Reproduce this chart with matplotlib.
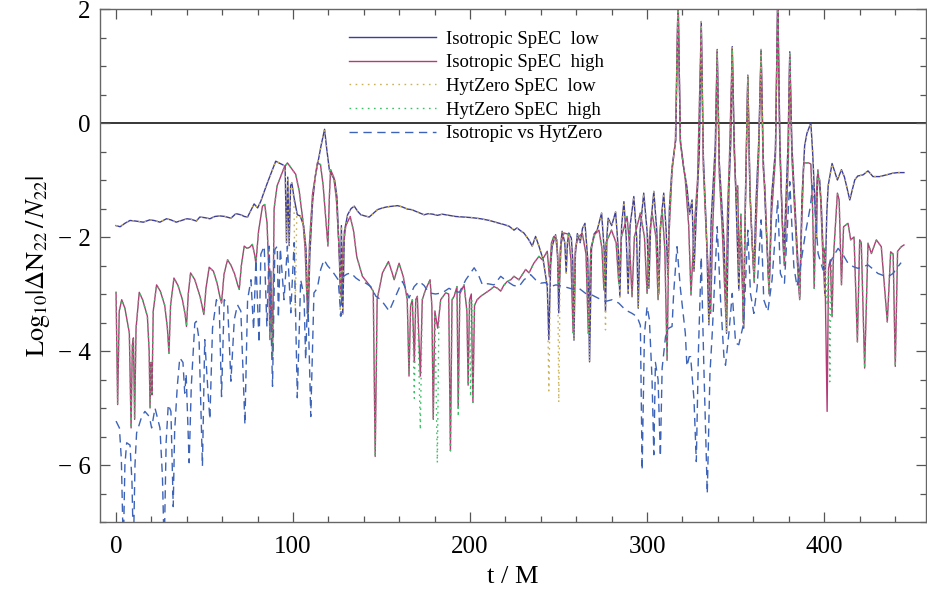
import matplotlib
matplotlib.use("Agg")
import matplotlib.pyplot as plt
from matplotlib.ticker import MultipleLocator, FixedLocator, FixedFormatter

plt.rcParams['font.family'] = ['Liberation Serif', 'DejaVu Serif']
plt.rcParams['mathtext.fontset'] = 'stix'

# (t/M, log10 |dN22/N22|)
iso_low = [
    (0, -1.80), (2.3, -1.82), (5, -1.76), (7.9, -1.71), (11, -1.72), (15.4, -1.74), (19, -1.70),
    (21.5, -1.71), (24.8, -1.74), (28.5, -1.68), (31, -1.70), (34, -1.74), (37, -1.71), (40, -1.68),
    (42.5, -1.69), (45.4, -1.72), (47.3, -1.65), (50, -1.66), (53, -1.68), (55.8, -1.64), (58.6, -1.63),
    (61.5, -1.64), (64.9, -1.67), (67.7, -1.59), (70.5, -1.61), (72.5, -1.64), (74.3, -1.65),
    (76.2, -1.53), (78, -1.42), (80, -1.49), (81.8, -1.37), (83.5, -1.22), (85.5, -1.05), (88, -0.85),
    (90.2, -0.67), (92, -0.70), (94, -0.73), (95.5, -0.76), (96.3, -2.1), (97, -0.95), (97.8, -2.15),
    (98.6, -1.1), (99.3, -1.05), (100.5, -1.3), (102.4, -1.61), (104, -1.63), (106, -1.8), (107.3, -2.2),
    (108.5, -3.45), (109.5, -2.3), (111, -1.4), (112.5, -0.95), (114, -0.70), (115.8, -0.40),
    (117.8, -0.11), (119, -0.45), (120.5, -0.82), (122, -0.92), (123.5, -1.0), (124.8, -1.3),
    (126.2, -2.4), (126.7, -3.0), (127.3, -1.8), (128.1, -3.35), (129, -1.9), (130.8, -1.61),
    (132.8, -1.5), (134.6, -1.46), (136.5, -1.55), (138.3, -1.61), (140.5, -1.63), (143, -1.65),
    (145.5, -1.58), (147.7, -1.52), (150.5, -1.49), (153.3, -1.47), (156, -1.46), (159, -1.45),
    (161.5, -1.47), (164.6, -1.51), (167, -1.52), (169.3, -1.55), (171.5, -1.58), (174, -1.61),
    (176.5, -1.59), (179, -1.60), (181.5, -1.62), (184.3, -1.60), (188, -1.62), (191.8, -1.64),
    (196.6, -1.65), (201, -1.66), (206, -1.68), (211, -1.71), (215.4, -1.75), (219, -1.78),
    (222, -1.81), (224.8, -1.88), (226.5, -1.84), (228.5, -1.89), (230.4, -1.93), (233.2, -2.05),
    (235.1, -2.16), (237, -1.99), (238.9, -2.16), (241.3, -2.4), (243.6, -2.87), (244.5, -3.8),
    (245.5, -2.5), (246.4, -2.16), (248.3, -1.96), (249.4, -2.3), (250.1, -3.33), (251, -2.2),
    (252, -1.9), (253.5, -2.1), (254.3, -2.63), (255, -2.1), (255.8, -1.93), (257.2, -2.02),
    (258, -2.4), (258.7, -3.81), (259.5, -2.3), (260.6, -1.94), (262.2, -2.1), (263.5, -1.85),
    (264.9, -1.76), (266.5, -2.4), (267.5, -4.19), (268.6, -2.2), (270, -1.95), (271.8, -1.88),
    (274.3, -1.58), (275.7, -2.2), (276.5, -3.3), (277.3, -2.0), (278, -1.67), (280, -1.8),
    (282.2, -1.56), (283.7, -2.2), (284.6, -3.05), (285.6, -1.8), (286.9, -1.38), (288.2, -2.0),
    (289.3, -2.99), (290.4, -1.8), (292.5, -1.29), (294.1, -2.0), (295, -3.25), (296, -1.9),
    (298.1, -1.23), (300, -1.9), (301, -2.9), (302, -1.8), (303.8, -1.2), (305.5, -1.9), (306.6, -3.0),
    (307.6, -1.8), (309.4, -1.23), (310.8, -1.9), (311.7, -2.7), (312.6, -1.5), (314.1, -0.77),
    (316.2, -0.3), (317.5, 2.2), (318.8, -0.3), (320.5, -0.75), (322.5, -1.12), (324, -1.6),
    (325.4, -1.35), (326.5, -2.6), (327.8, -1.6), (329.5, -0.5), (330.6, 1.78), (331.8, -0.6),
    (333.5, -1.9), (334.9, -3.54), (336.2, -1.7), (338.5, -0.4), (339.6, 1.29), (340.8, -0.7),
    (342.5, -1.6), (343.5, -2.1), (344.9, -3.69), (346.2, -1.2), (347.3, -0.3), (348.1, 1.34),
    (349.2, -0.3), (350.5, -1.6), (351.8, -2.93), (353, -1.8), (354.6, -3.6), (355.6, -1.2),
    (356.9, 0.84), (358, -1.1), (359.2, -2.0), (360.3, -2.64), (361.5, -1.4), (363.1, -0.3),
    (364.4, 1.29), (365.6, -0.6), (367.2, -1.8), (368.9, -2.93), (370.3, -1.3), (372.5, -0.47),
    (373.8, 2.2), (375, -0.3), (376.2, -1.6), (377.2, -2.35), (378.5, -1.3), (379.6, -0.4),
    (380.6, 1.25), (381.8, -0.4), (383.5, -1.4), (384.8, -2.2), (386.2, -3.05), (387.5, -1.3),
    (389, -0.4), (390.3, -0.18), (392.5, 0.0), (393.5, -0.5), (394.5, -1.2), (395.7, -2.02),
    (396.2, -0.94), (397.5, -1.0), (398.5, -1.5), (400.4, -3.02), (401.5, -1.6), (402.3, -1.1),
    (404.5, -0.71), (407.5, -1.0), (409.8, -0.82), (411.5, -0.95), (414.5, -1.35), (417.3, -1.0),
    (419, -0.93), (422, -0.91), (424.8, -0.84), (427.6, -0.94), (431.4, -0.94), (435.1, -0.91),
    (438.9, -0.88), (441.7, -0.87), (445.1, -0.87),
]

iso_high = [
    (0, -2.97), (0.9, -4.94), (1.8, -3.3), (3.2, -3.1), (5, -3.25), (7.5, -3.68), (8.5, -5.35),
    (9.2, -3.9), (9.8, -3.77), (10.5, -5.2), (11.3, -3.6), (13.1, -2.97), (15, -3.1), (17.7, -3.39),
    (18.7, -4.0), (19.2, -5.0), (19.7, -4.2), (20, -4.4), (20.3, -4.77), (21, -3.3), (22.9, -2.84),
    (25, -2.95), (27.5, -3.2), (29, -3.6), (29.9, -4.04), (30.8, -3.2), (32.7, -2.72), (35, -2.85),
    (37.5, -3.1), (39, -3.35), (39.8, -3.57), (40.8, -3.0), (42.1, -2.63), (44.5, -2.75),
    (47.5, -3.05), (49.6, -3.36), (50.8, -2.9), (52.6, -2.53), (55, -2.6), (57, -2.8), (58.6, -3.04),
    (59.6, -3.16), (61, -2.65), (63, -2.4), (65, -2.5), (67, -2.65), (68.8, -2.85), (69.6, -2.92),
    (70.8, -2.5), (72.4, -2.16), (74, -2.2), (75.5, -2.18), (77, -2.13), (78.2, -2.3), (79, -2.46),
    (80.5, -1.9), (82.7, -1.46), (84, -1.43), (85.3, -1.75), (86.3, -2.6), (86.9, -3.8), (87.5, -2.6),
    (88.4, -4.09), (89.3, -1.5), (91, -1.1), (93, -0.94), (95, -0.78), (96.8, -0.70), (98, -0.75),
    (99.6, -0.82), (101.5, -0.9), (103.5, -1.2), (105.5, -1.7), (106.8, -2.2), (107.7, -2.98),
    (108.3, -3.3), (109.3, -2.1), (111, -1.25), (113.7, -0.70), (115.5, -0.73), (117, -1.1),
    (118.5, -1.7), (119.7, -2.16), (120.5, -1.3), (121.2, -0.82), (123, -0.95), (124.5, -1.35),
    (126, -2.2), (127.2, -3.05), (128.2, -2.2), (129.8, -1.8), (132.3, -1.64), (134.2, -1.9),
    (136, -2.35), (139.2, -2.69), (143, -2.84), (145.3, -2.95), (146.4, -5.85), (147.5, -3.1),
    (150.5, -2.63), (153.9, -2.43), (155.7, -2.6), (157.1, -2.75), (159.9, -2.46), (162.3, -2.7),
    (164.5, -3.1), (165.5, -4.44), (166.4, -3.2), (167.4, -3.1), (168.5, -4.2), (169.3, -3.1),
    (170.2, -3.04), (171.9, -4.44), (173, -3.1), (174.9, -2.92), (177.4, -2.75), (178.4, -3.2),
    (179.2, -5.2), (180.1, -3.3), (181.7, -3.6), (183.4, -3.1), (186.2, -2.98), (187.9, -3.0),
    (188.9, -5.75), (189.8, -3.1), (191, -3.04), (192.6, -2.87), (193.3, -5.0), (194.2, -3.0),
    (196.6, -2.84), (198.2, -3.3), (198.9, -4.6), (199.7, -3.1), (200.7, -3.0), (201.6, -4.9),
    (202.5, -3.2), (204, -3.1), (206, -3.04), (208.8, -2.98), (211.6, -2.92), (213.5, -2.87),
    (215.5, -2.9), (217.3, -2.95), (219, -2.85), (221, -2.78), (223, -2.75), (224.8, -2.69),
    (227.6, -2.75), (231.4, -2.57), (233.3, -2.63), (236, -2.46), (238.9, -2.34), (240.8, -2.4),
    (243.6, -2.25), (244.8, -2.7), (246, -2.1), (247.3, -1.99), (249, -2.05), (250.3, -2.9),
    (251.5, -2.1), (253, -1.93), (255.5, -1.95), (257, -2.4), (258.2, -3.68), (259.5, -2.2),
    (261, -2.0), (263.4, -1.94), (265.5, -2.3), (266.8, -3.69), (268.2, -2.2), (270.5, -1.95),
    (272.8, -1.88), (274.5, -2.2), (275.6, -2.93), (276.8, -2.1), (279.9, -1.88), (282.5, -2.1),
    (284, -2.81), (285.5, -2.0), (288.7, -1.64), (290.2, -2.2), (291.5, -3.05), (292.8, -2.0),
    (296.2, -1.58), (298.5, -2.0), (300, -2.99), (301.3, -2.0), (302.8, -1.58), (305, -2.0),
    (306.2, -3.1), (307.3, -1.9), (308.5, -1.53), (310, -2.2), (311.3, -4.16), (312.3, -2.0),
    (314.1, -0.85), (316, -0.3), (317.5, 2.2), (318.8, -0.35), (321.6, -1.0), (323.5, -1.8),
    (324.8, -3.02), (326.5, -1.9), (328.5, -1.0), (330.6, 1.7), (331.8, -0.8), (333.5, -2.0),
    (335.9, -3.34), (337, -1.9), (338.6, -0.6), (339.6, 1.25), (340.8, -0.9), (342.5, -1.9),
    (344.5, -3.4), (345.5, -1.5), (346.5, -0.65), (348.1, 1.3), (349.2, -0.5), (350.5, -1.4),
    (351.2, -1.1), (352, -2.6), (353, -1.6), (354.3, -3.5), (355.6, -1.4), (356.9, 0.8),
    (358.2, -1.3), (359.5, -2.2), (360.5, -2.8), (361.8, -1.6), (363.1, -0.5), (364.4, 1.25),
    (365.6, -0.8), (366.5, -1.1), (367.5, -1.9), (368.9, -3.0), (370.3, -1.6), (372.5, -0.6),
    (373.8, 2.2), (375, -0.5), (376.5, -1.8), (377.5, -2.5), (378.8, -1.5), (379.8, -0.6),
    (380.6, 1.2), (381.8, -0.6), (383.5, -1.6), (385, -2.5), (386.2, -3.1), (387.2, -1.9),
    (388.5, -0.7), (391.3, -0.7), (392.5, -0.72), (393.5, -1.5), (394.4, -2.9), (395.5, -1.3),
    (396.5, -0.82), (398, -1.3), (399.5, -2.5), (400.3, -2.2), (401.7, -5.06), (402.5, -2.55),
    (403.5, -2.4), (404.5, -3.4), (405.2, -2.4), (407.5, -1.23), (408.5, -1.35), (409.8, -2.84),
    (411, -1.82), (413.5, -1.76), (415, -2.05), (416.9, -2.0), (418.8, -3.84), (420.1, -2.05),
    (421, -2.1), (422.9, -4.3), (424.8, -2.11), (426.7, -2.29), (429.5, -2.05), (432.3, -2.17),
    (435.7, -3.49), (437.6, -2.26), (439, -2.3), (440.2, -4.27), (441.5, -2.25), (443.6, -2.17),
    (445.1, -2.14),
]

hyt_low = [
    (0, -1.80), (2.3, -1.82), (5, -1.76), (7.9, -1.71), (11, -1.72), (15.4, -1.74), (19, -1.70),
    (21.5, -1.71), (24.8, -1.74), (28.5, -1.68), (31, -1.70), (34, -1.74), (37, -1.71), (40, -1.68),
    (42.5, -1.69), (45.4, -1.72), (47.3, -1.65), (50, -1.66), (53, -1.68), (55.8, -1.64), (58.6, -1.63),
    (61.5, -1.64), (64.9, -1.67), (67.7, -1.59), (70.5, -1.61), (72.5, -1.64), (74.3, -1.65),
    (76.2, -1.53), (78, -1.42), (80, -1.49), (81.8, -1.37), (83.5, -1.22), (85.5, -1.05), (88, -0.85),
    (90.2, -0.67), (92, -0.70), (94, -0.73), (95.5, -0.76), (96.3, -2.1), (97, -0.95), (97.8, -2.15),
    (98.6, -1.1), (99.3, -1.05), (100.5, -1.35), (101.3, -3.33), (102.1, -1.55), (104, -1.63),
    (106, -1.8), (107.3, -2.2), (108.5, -3.45), (109.5, -2.3), (111, -1.4), (112.5, -0.95),
    (114, -0.70), (115.8, -0.40), (117.8, -0.11), (119, -0.45), (120.5, -0.82), (122, -0.92),
    (123.5, -1.0), (124.8, -1.3), (126.2, -2.4), (126.7, -3.42), (127.3, -1.8), (128.1, -3.35),
    (129, -1.9), (130.8, -1.61), (132.8, -1.5), (134.6, -1.46), (136.5, -1.55), (138.3, -1.61),
    (140.5, -1.63), (143, -1.65), (145.5, -1.58), (147.7, -1.52), (150.5, -1.49), (153.3, -1.47),
    (156, -1.46), (159, -1.45), (161.5, -1.47), (164.6, -1.51), (167, -1.52), (169.3, -1.55),
    (171.5, -1.58), (174, -1.61), (176.5, -1.59), (179, -1.60), (181.5, -1.62), (184.3, -1.60),
    (188, -1.62), (191.8, -1.64), (196.6, -1.65), (201, -1.66), (206, -1.68), (211, -1.71),
    (215.4, -1.75), (219, -1.78), (222, -1.81), (224.8, -1.88), (226.5, -1.84), (228.5, -1.89),
    (230.4, -1.93), (233.2, -2.05), (235.1, -2.16), (237, -1.99), (238.9, -2.16), (241.3, -2.4),
    (243.6, -2.87), (244.5, -4.7), (245.5, -2.5), (246.4, -2.16), (248.3, -1.96), (249.4, -2.3),
    (250.1, -4.9), (251, -2.2), (252, -1.9), (253.5, -2.1), (254.3, -2.63), (255, -2.1),
    (255.8, -1.93), (257.2, -2.02), (258, -2.4), (258.7, -3.81), (259.5, -2.3), (260.6, -1.94),
    (262.2, -2.1), (263.5, -1.85), (264.9, -1.76), (266.5, -2.4), (267.5, -4.19), (268.6, -2.2),
    (270, -1.95), (271.8, -1.88), (274.3, -1.58), (275.7, -2.2), (276.5, -3.63), (277.3, -2.0),
    (278, -1.67), (280, -1.8), (282.2, -1.56), (283.7, -2.2), (284.6, -3.05), (285.6, -1.8),
    (286.9, -1.38), (288.2, -2.0), (289.3, -2.99), (290.4, -1.8), (292.5, -1.29), (294.1, -2.0),
    (295, -3.25), (296, -1.9), (298.1, -1.23), (300, -1.9), (301, -2.9), (302, -1.8), (303.8, -1.2),
    (305.5, -1.9), (306.6, -3.0), (307.6, -1.8), (309.4, -1.23), (310.8, -1.9), (311.7, -2.7),
    (312.6, -1.5), (314.1, -0.77), (316.2, -0.3), (317.5, 2.2), (318.8, -0.3), (320.5, -0.75),
    (322.5, -1.12), (324, -1.6), (325.4, -1.35), (326.5, -2.6), (327.8, -1.6), (329.5, -0.5),
    (330.6, 1.78), (331.8, -0.6), (333.5, -1.9), (334.9, -3.54), (336.2, -1.7), (338.5, -0.4),
    (339.6, 1.29), (340.8, -0.7), (342.5, -1.6), (343.5, -2.1), (344.9, -3.69), (346.2, -1.2),
    (347.3, -0.3), (348.1, 1.34), (349.2, -0.3), (350.5, -1.6), (351.8, -2.93), (353, -1.8),
    (354.6, -3.6), (355.6, -1.2), (356.9, 0.84), (358, -1.1), (359.2, -2.0), (360.3, -2.64),
    (361.5, -1.4), (363.1, -0.3), (364.4, 1.29), (365.6, -0.6), (367.2, -1.8), (368.9, -2.93),
    (370.3, -1.3), (372.5, -0.47), (373.8, 2.2), (375, -0.3), (376.2, -1.6), (377.2, -2.35),
    (378.5, -1.3), (379.6, -0.4), (380.6, 1.25), (381.8, -0.4), (383.5, -1.4), (384.8, -2.2),
    (386.2, -3.05), (387.5, -1.3), (389, -0.4), (390.3, -0.18), (392.5, 0.0), (393.5, -0.5),
    (394.5, -1.2), (395.7, -2.02), (396.2, -0.94), (397.5, -1.0), (398.5, -1.5), (400.4, -3.02),
    (401.5, -1.6), (402.3, -1.1), (404.5, -0.71), (407.5, -1.0), (409.8, -0.82), (411.5, -0.95),
    (414.5, -1.35), (417.3, -1.0), (419, -0.93), (422, -0.91), (424.8, -0.84), (427.6, -0.94),
    (431.4, -0.94), (435.1, -0.91), (438.9, -0.88), (441.7, -0.87), (445.1, -0.87),
]

hyt_high = [
    (0, -2.97), (0.9, -4.94), (1.8, -3.3), (3.2, -3.1), (5, -3.25), (7.5, -3.68), (8.5, -5.35),
    (9.2, -3.9), (9.8, -3.77), (10.5, -5.2), (11.3, -3.6), (13.1, -2.97), (15, -3.1), (17.7, -3.39),
    (18.7, -4.0), (19.2, -5.0), (19.7, -4.2), (20, -4.4), (20.3, -4.77), (21, -3.3), (22.9, -2.84),
    (25, -2.95), (27.5, -3.2), (29, -3.6), (29.9, -4.04), (30.8, -3.2), (32.7, -2.72), (35, -2.85),
    (37.5, -3.1), (39, -3.35), (39.8, -3.57), (40.8, -3.0), (42.1, -2.63), (44.5, -2.75),
    (47.5, -3.05), (49.6, -3.36), (50.8, -2.9), (52.6, -2.53), (55, -2.6), (57, -2.8), (58.6, -3.04),
    (59.6, -3.16), (61, -2.65), (63, -2.4), (65, -2.5), (67, -2.65), (68.8, -2.85), (69.6, -2.92),
    (70.8, -2.5), (72.4, -2.16), (74, -2.2), (75.5, -2.18), (77, -2.13), (78.2, -2.3), (79, -2.46),
    (80.5, -1.9), (82.7, -1.46), (84, -1.43), (85.3, -1.75), (86.3, -2.6), (86.9, -3.8), (87.5, -2.6),
    (88.4, -4.09), (89.3, -1.5), (91, -1.1), (93, -0.94), (95, -0.78), (96.8, -0.70), (98, -0.75),
    (99.6, -0.82), (101.5, -0.9), (103.5, -1.2), (105.5, -1.7), (106.8, -2.2), (107.7, -2.98),
    (108.3, -3.3), (109.3, -2.1), (111, -1.25), (113.7, -0.70), (115.5, -0.73), (117, -1.1),
    (118.5, -1.7), (119.7, -2.16), (120.5, -1.3), (121.2, -0.82), (123, -0.95), (124.5, -1.35),
    (126, -2.2), (127.2, -3.05), (128.2, -2.2), (129.8, -1.8), (132.3, -1.64), (134.2, -1.9),
    (136, -2.35), (139.2, -2.69), (143, -2.84), (145.3, -2.95), (146.4, -5.85), (147.5, -3.1),
    (150.5, -2.63), (153.9, -2.43), (155.7, -2.6), (157.1, -2.75), (159.9, -2.46), (162.3, -2.7),
    (164.5, -3.1), (165.5, -4.4), (166.4, -3.2), (167.4, -3.1), (168.5, -4.83), (169.3, -3.1),
    (170.2, -3.04), (171.9, -5.38), (173, -3.1), (174.9, -2.92), (177.4, -2.75), (178.4, -3.2),
    (179.2, -5.2), (180.1, -3.3), (181.5, -5.96), (182.4, -3.4), (183.4, -3.1), (186.2, -2.98),
    (187.9, -3.0), (188.9, -5.75), (189.8, -3.1), (191, -3.04), (192.6, -2.87), (193.3, -5.15),
    (194.2, -3.0), (196.6, -2.84), (198.2, -3.3), (198.9, -4.6), (199.7, -3.1), (200.3, -4.8),
    (201, -3.1), (201.6, -4.9), (202.5, -3.2), (204, -3.1), (206, -3.04), (208.8, -2.98),
    (211.6, -2.92), (213.5, -2.87), (215.5, -2.9), (217.3, -2.95), (219, -2.85), (221, -2.78),
    (223, -2.75), (224.8, -2.69), (227.6, -2.75), (231.4, -2.57), (233.3, -2.63), (236, -2.46),
    (238.9, -2.34), (240.8, -2.4), (243.6, -2.25), (244.8, -2.7), (246, -2.1), (247.3, -1.99),
    (249, -2.05), (250.3, -2.9), (251.5, -2.1), (253, -1.93), (255.5, -1.95), (257, -2.4),
    (258.2, -3.68), (259.5, -2.2), (261, -2.0), (263.4, -1.94), (265.5, -2.3), (266.8, -3.69),
    (268.2, -2.2), (270.5, -1.95), (272.8, -1.88), (274.5, -2.2), (275.6, -2.93), (276.8, -2.1),
    (279.9, -1.88), (282.5, -2.1), (284, -2.81), (285.5, -2.0), (288.7, -1.64), (290.2, -2.2),
    (291.5, -3.05), (292.8, -2.0), (296.2, -1.58), (298.5, -2.0), (300, -2.99), (301.3, -2.0),
    (302.8, -1.58), (305, -2.0), (306.2, -3.1), (307.3, -1.9), (308.5, -1.53), (310, -2.2),
    (311.3, -4.16), (312.3, -2.0), (314.1, -0.85), (316, -0.3), (317.5, 2.2), (318.8, -0.35),
    (321.6, -1.0), (323.5, -1.8), (324.8, -3.02), (326.5, -1.9), (328.5, -1.0), (330.6, 1.7),
    (331.8, -0.8), (333.5, -2.0), (335.9, -3.34), (337, -1.9), (338.6, -0.6), (339.6, 1.25),
    (340.8, -0.9), (342.5, -1.9), (344.5, -3.4), (345.5, -1.5), (346.5, -0.65), (348.1, 1.3),
    (349.2, -0.5), (350.5, -1.4), (351.2, -1.1), (352, -2.6), (353, -1.6), (354.3, -3.5),
    (355.6, -1.4), (356.9, 0.8), (358.2, -1.3), (359.5, -2.2), (360.5, -2.8), (361.8, -1.6),
    (363.1, -0.5), (364.4, 1.25), (365.6, -0.8), (366.5, -1.1), (367.5, -1.9), (368.9, -3.0),
    (370.3, -1.6), (372.5, -0.6), (373.8, 2.2), (375, -0.5), (376.5, -1.8), (377.5, -2.5),
    (378.8, -1.5), (379.8, -0.6), (380.6, 1.2), (381.8, -0.6), (383.5, -1.6), (385, -2.5),
    (386.2, -3.1), (387.2, -1.9), (388.5, -0.7), (391.3, -0.7), (392.5, -0.72), (393.5, -1.5),
    (394.4, -2.9), (395.5, -1.3), (396.5, -0.82), (398, -1.3), (399.5, -2.5), (400.3, -2.2),
    (401.7, -3.2), (402.5, -2.6), (403.2, -4.54), (404, -2.5), (404.5, -3.4), (405.2, -2.4),
    (407.5, -1.23), (408.5, -1.35), (409.8, -2.84), (411, -1.82), (413.5, -1.76), (415, -2.05),
    (416.9, -2.0), (418.8, -3.84), (420.1, -2.05), (421, -2.1), (422.9, -4.3), (424.8, -2.11),
    (426.7, -2.29), (429.5, -2.05), (432.3, -2.17), (435.7, -3.49), (437.6, -2.26), (439, -2.3),
    (440.2, -4.27), (441.5, -2.25), (443.6, -2.17), (445.1, -2.14),
]

iso_vs_hyt = [
    (0, -5.23), (1.9, -5.35), (3, -5.9), (4.1, -7.5), (5, -6.0), (6, -5.61), (7.9, -5.65), (9, -6.3),
    (9.8, -7.5), (10.7, -6.0), (11.6, -5.44), (14.5, -5.15), (16.3, -5.06), (18.8, -5.15),
    (20.1, -5.35), (22, -5.0), (24.8, -5.35), (26.2, -6.2), (27.2, -7.5), (28.3, -5.6), (29.5, -4.94),
    (31, -5.06), (31.6, -5.8), (32.3, -6.73), (33.1, -5.4), (34.6, -4.62), (36, -4.12), (37.8, -4.2),
    (38.8, -4.74), (39.6, -4.4), (41.3, -5.96), (42.5, -4.62), (44.5, -3.51), (45.4, -3.48),
    (46.9, -3.8), (48.8, -6.02), (50.1, -3.8), (51.9, -4.7), (53, -5.2), (54.5, -3.6), (56.7, -3.1),
    (58.3, -3.22), (59.6, -4.8), (61.1, -3.1), (63, -3.16), (64.9, -4.53), (66.8, -3.45),
    (68.6, -3.19), (70.5, -3.3), (72.8, -5.29), (74.3, -3.1), (76.2, -2.75), (77.7, -3.63),
    (79, -2.4), (80.8, -3.86), (81.8, -2.3), (83.7, -2.16), (85.2, -3.57), (86.5, -2.16),
    (88.4, -4.62), (89.7, -2.22), (91.1, -2.16), (91.7, -3.42), (92.8, -2.2), (94.9, -3.1),
    (96.8, -2.16), (98.7, -3.33), (100.6, -2.1), (102.4, -4.82), (104.3, -2.75), (106.2, -3.04),
    (107.1, -4.15), (108.3, -2.98), (110, -5.15), (111.8, -2.98), (113.7, -2.9), (115.6, -2.57),
    (117.5, -2.4), (119.4, -2.5), (122.2, -2.6), (124.2, -2.69), (125.5, -2.75), (127, -3.39),
    (128, -2.7), (130.5, -2.65), (132.7, -2.63), (135.5, -2.72), (138.3, -2.78), (141.1, -2.81),
    (143.9, -2.87), (146.8, -3.04), (149.6, -3.1), (152, -3.2), (154.3, -3.3), (157.1, -3.1),
    (159.9, -2.9), (161.8, -2.78), (163.5, -2.9), (165.5, -3.07), (168.4, -2.87), (171.2, -2.78),
    (174, -2.85), (176.8, -2.98), (180.5, -3.0), (184.3, -2.98), (188.1, -2.9), (191, -2.95),
    (194, -2.97), (197.6, -2.75), (202.3, -2.54), (204.5, -2.65), (207, -2.84), (210, -2.82),
    (213.5, -2.84), (217.3, -2.69), (221, -2.78), (224.5, -2.85), (227.6, -2.87), (230.5, -2.75),
    (234.2, -2.66), (237, -2.75), (239.8, -2.81), (242.5, -2.8), (245.4, -2.87), (248.5, -2.84),
    (253, -2.87), (258.6, -2.92), (261.5, -2.9), (265.3, -2.99), (269, -3.02), (272.8, -3.08),
    (276.5, -3.13), (280.3, -3.1), (284, -3.16), (287.8, -3.28), (291.5, -3.34), (294.4, -3.4),
    (296.2, -3.55), (297.2, -6.09), (298.5, -3.7), (300, -3.22), (301.3, -3.45), (302.8, -4.5),
    (303.8, -5.82), (304.7, -4.2), (306.2, -4.5), (307.5, -5.85), (308.5, -4.3), (310.4, -3.75),
    (312.2, -3.6), (314.1, -3.57), (315, -2.99), (316.9, -2.17), (318.8, -2.9), (321.6, -3.69),
    (322.5, -4.27), (323.8, -4.1), (324.6, -4.1), (326.5, -4.86), (327.8, -5.94), (329, -4.0),
    (330.6, -2.35), (332, -4.2), (334, -6.5), (335.5, -4.4), (336.8, -3.69), (339.6, -1.82),
    (341.5, -3.1), (343.4, -4.1), (344.3, -4.25), (346.2, -3.69), (348.1, -2.99), (350, -3.86),
    (351.8, -3.89), (354.6, -3.51), (356.9, -1.88), (358.4, -2.99), (360.3, -3.34), (362.2, -2.87),
    (364.4, -1.7), (365.9, -3.1), (368.2, -3.31), (370.6, -2.75), (373.8, -1.35), (375.3, -2.64),
    (377.6, -2.81), (380.6, -1.03), (382.9, -2.52), (384.7, -2.87), (386.6, -2.52), (389.4, -1.94),
    (392.2, -1.47), (393.5, -1.1), (394.5, -1.35), (396.6, -2.29), (399.4, -2.58), (402.3, -2.52),
    (405, -2.35), (407.9, -2.2), (410.5, -2.3), (413.5, -2.46), (416.5, -2.52), (419.2, -2.55),
    (422, -2.52), (424.8, -2.49), (427.5, -2.56), (430.4, -2.64), (433, -2.67), (436, -2.7),
    (438.9, -2.64), (441.7, -2.52), (443.5, -2.45),
]

labels = ["Isotropic SpEC  low", "Isotropic SpEC  high", "HytZero SpEC  low",
          "HytZero SpEC  high", "Isotropic vs HytZero"]
y_ticks = [-6, -4, -2, 0, 2]
y_ticklabels = ["\u2212 6", "\u2212 4", "\u2212 2", "0", "2"]

fig = plt.figure(figsize=(9.27, 6.0), dpi=100)
ax = fig.add_axes([0.108, 0.13, 0.891, 0.855])

ax.axhline(0, color="black", lw=1.1, zorder=1)

styles = [
    dict(color="#3d3d9e", lw=1.0, ls="-"),
    dict(color="#b53a78", lw=1.0, ls="-"),
    dict(color="#c8b25a", lw=1.0, ls=(0, (1.2, 3.2))),
    dict(color="#3cbf66", lw=1.0, ls=(0, (1.2, 3.2))),
    dict(color="#3d63b8", lw=1.0, ls=(0, (6, 4))),
]
series = [iso_low, iso_high, hyt_low, hyt_high, iso_vs_hyt]
handles = []
for pts, st, lab in zip(series, styles, labels):
    t = [p[0] for p in pts]
    y = [p[1] for p in pts]
    line, = ax.plot(t, y, label=lab, zorder=2, **st)
    handles.append(line)

ax.set_xlim(-9, 457.6)
ax.set_ylim(-7, 2)

ax.xaxis.set_major_locator(MultipleLocator(100))
ax.xaxis.set_minor_locator(MultipleLocator(20))
ax.yaxis.set_major_locator(FixedLocator(y_ticks))
ax.yaxis.set_major_formatter(FixedFormatter(y_ticklabels))
ax.yaxis.set_minor_locator(MultipleLocator(0.5))

ax.tick_params(which="both", direction="in", top=True, right=True, colors="#555555",
               labelcolor="black", width=0.9)
ax.tick_params(which="major", length=7, labelsize=18)
ax.tick_params(which="minor", length=4)
ax.tick_params(axis="x", which="major", pad=10)
ax.tick_params(axis="y", which="major", pad=7)
for sp in ax.spines.values():
    sp.set_color("#666666")
    sp.set_linewidth(1.0)

ax.set_xlabel("t / M", fontsize=19, labelpad=6)
ax.set_ylabel(r"$\mathrm{Log}_{10}|\Delta\mathrm{N}_{22}\,/\,N_{22}|$", fontsize=19, labelpad=4)

ax.legend(handles=handles, loc="upper left", bbox_to_anchor=(0.301, 0.958), frameon=False,
          fontsize=13.5, handlelength=4.65, handletextpad=0.53, labelspacing=0.35,
          borderpad=0, borderaxespad=0)

fig.savefig("out.png", dpi=100)
